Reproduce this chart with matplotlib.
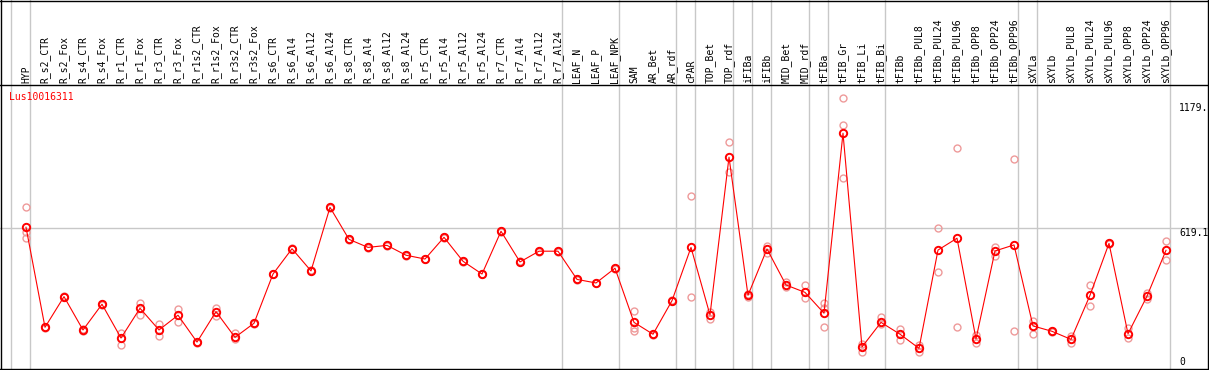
# Expression profile of Lus10016311 across samples (means + replicates)
import matplotlib
matplotlib.use("Agg")
import matplotlib.pyplot as plt
from matplotlib.lines import Line2D

gene = "Lus10016311"

samples = ["HYP", "R_s2_CTR", "R_s2_Fox", "R_s4_CTR", "R_s4_Fox", "R_r1_CTR", "R_r1_Fox",
           "R_r3_CTR", "R_r3_Fox", "R_r1s2_CTR", "R_r1s2_Fox", "R_r3s2_CTR", "R_r3s2_Fox",
           "R_s6_CTR", "R_s6_Al4", "R_s6_Al12", "R_s6_Al24", "R_s8_CTR", "R_s8_Al4",
           "R_s8_Al12", "R_s8_Al24", "R_r5_CTR", "R_r5_Al4", "R_r5_Al12", "R_r5_Al24",
           "R_r7_CTR", "R_r7_Al4", "R_r7_Al12", "R_r7_Al24", "LEAF_N", "LEAF_P", "LEAF_NPK",
           "SAM", "AR_Bet", "AR_rdf", "cPAR", "TOP_Bet", "TOP_rdf", "iFIBa", "iFIBb",
           "MID_Bet", "MID_rdf", "tFIBa", "tFIB_Gr", "tFIB_Li", "tFIB_Bi", "tFIBb",
           "tFIBb_PUL8", "tFIBb_PUL24", "tFIBb_PUL96", "tFIBb_OPP8", "tFIBb_OPP24",
           "tFIBb_OPP96", "sXYLa", "sXYLb", "sXYLb_PUL8", "sXYLb_PUL24", "sXYLb_PUL96",
           "sXYLb_OPP8", "sXYLb_OPP24", "sXYLb_OPP96"]

means = [624, 177, 314, 165, 280, 129, 262, 165, 231, 111, 247, 132, 195,
         415, 528, 429, 713, 570, 534, 543, 499, 482, 579, 472, 415, 606, 469, 517, 517,
         391, 375, 441, 199, 146, 296, 534, 232, 937, 320, 527, 366, 333, 240, 1044,
         89, 199, 146, 83, 522, 575, 125, 518, 545, 183, 159, 123, 320, 552, 148, 316, 521]

replicates = [[713, 604, 575], [180, 174], [316, 311], [168, 162], [283, 277], [153, 99],
              [287, 232], [190, 139], [257, 199], [113, 109], [265, 227], [150, 123],
              [197, 192], [417, 413], [530, 526], [431, 427], [715, 711], [572, 568],
              [536, 532], [545, 541], [501, 497], [484, 480], [581, 577], [474, 470],
              [417, 413], [608, 604], [471, 467], [519, 515], [519, 515], [393, 389],
              [377, 373], [443, 439], [248, 173, 162], [148, 144], [298, 294], [762, 312],
              [247, 215], [1004, 870], [327, 312], [542, 510], [381, 356], [366, 307],
              [284, 262, 177], [1200, 1080, 845], [101, 68], [224, 190], [171, 120],
              [98, 68], [619, 423], [977, 177], [143, 106], [537, 497], [928, 159],
              [206, 146], [161, 157], [138, 106], [366, 274], [554, 550], [174, 129],
              [332, 303], [561, 476]]

# index of the last sample in each group (-1 = left edge line)
group_ends = [-1, 0, 28, 31, 34, 35, 37, 38, 39, 41, 42, 45, 52, 53, 60]

y_ticks = [0, 619.1, 1179.0]
y_tick_labels = ["0", "619.1", "1179."]

W, H = 1209, 370
fig = plt.figure(figsize=(W / 100, H / 100), dpi=100)
plt.rcParams['font.family'] = ['DejaVu Sans Mono']

# plot area: x 1..1171 px, y 85..369 px (from top)
ax = fig.add_axes([1 / W, 1 / H, 1170 / W, 284 / H])
ax.set_xlim(-25 / 19, -25 / 19 + 1170 / 19)
ax.set_ylim(-9.4, 1259.6)
ax.axis("off")

grey = "#c8c8c8"
top_ext = 1 + 85 / 284
for g in group_ends:
    ax.axvline(g + 0.23, ymin=0, ymax=top_ext, color=grey, lw=1, clip_on=False, zorder=1)

ax.axhline(y_ticks[1], xmin=-1 / 1170, xmax=1206 / 1170, color=grey, lw=1,
           clip_on=False, zorder=1)

xs = list(range(len(samples)))
for i, reps in enumerate(replicates):
    ax.plot([i] * len(reps), reps, linestyle="none", marker="o", ms=5, mfc="none",
            mec="#ee9a9a", mew=1.0, zorder=2)
ax.plot(xs, means, color="red", lw=0.8, zorder=3)
ax.plot(xs, means, linestyle="none", marker="o", ms=5.3, mfc="none", mec="red",
        mew=1.4, zorder=4)

# column labels in header
for i, s in enumerate(samples):
    ax.text(i, 1 + 2 / 284, s, rotation=90, ha="center", va="bottom", fontsize=7,
            transform=ax.get_xaxis_transform(), clip_on=False)

# y labels on the right
for v, lab in zip(y_ticks, y_tick_labels):
    ax.text(1178 / 1170, v, lab, ha="left", va="bottom" if v == 0 else "top",
            fontsize=7, transform=ax.get_yaxis_transform(), clip_on=False)

fig.text(9 / W, 1 - 92 / H, gene, color="red", fontsize=7, ha="left", va="top")

# outer frame and header separator
def hline(y):
    fig.add_artist(Line2D([0, 1], [1 - y / H] * 2, color="black", lw=1.0,
                          transform=fig.transFigure))

def vline(x):
    fig.add_artist(Line2D([x / W] * 2, [0, 1], color="black", lw=1.0,
                          transform=fig.transFigure))

hline(0.5)
hline(85)
hline(369.3)
vline(1.2)
vline(1207.6)

fig.savefig("out.png", dpi=100)
